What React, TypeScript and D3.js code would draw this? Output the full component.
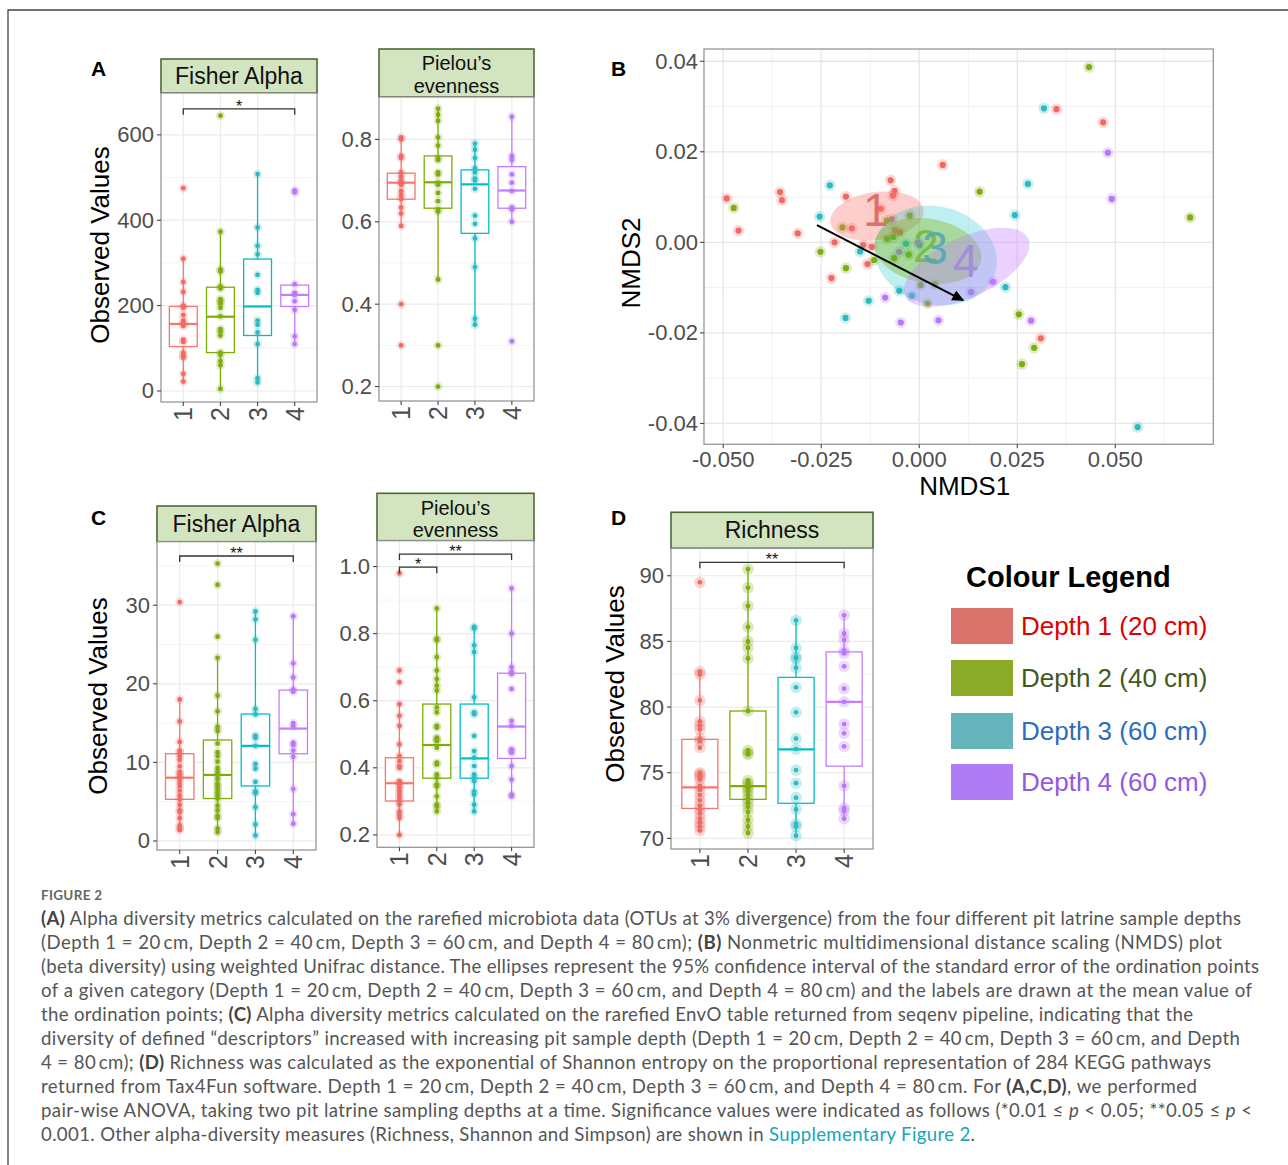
import React from "react";
import * as d3 from "d3";

// ---------- shared ----------
const cats = ["1", "2", "3", "4"];
const boxStroke = ["#F8766D", "#7CAE00", "#00BFC4", "#C77CFF"];
const dotFill = ["#EE6A63", "#80AC10", "#2DBBC2", "#B978F8"];

// ---------- Panel A: Fisher Alpha ----------
const fisherAPoints = [
  [475, 310, 255, 232, 200, 195, 178, 165, 158, 152, 120, 115, 90, 82, 78, 40, 22],
  [645, 373, 285, 280, 245, 240, 215, 210, 205, 195, 175, 145, 140, 130, 90, 85, 70, 60, 5],
  [508, 383, 340, 320, 272, 237, 230, 165, 155, 137, 110, 30, 20],
  [470, 465, 250, 230, 225, 210, 190, 128, 110],
];
// [lower whisker, q1, median, q3, upper whisker]
const fisherABoxes = [
  [20, 104, 157, 198, 309],
  [5, 90, 174, 243, 373],
  [20, 130, 198, 309, 508],
  [110, 198, 225, 248, 250],
];
const fisherATicks = [0, 200, 400, 600];
const fisherAMinor = [100, 300, 500];

// ---------- Panel A: Pielou ----------
const pielouAPoints = [
  [0.805, 0.8, 0.76, 0.755, 0.72, 0.71, 0.7, 0.695, 0.69, 0.675, 0.665, 0.655, 0.635, 0.62, 0.59, 0.4, 0.3],
  [0.875, 0.86, 0.845, 0.805, 0.785, 0.755, 0.75, 0.72, 0.715, 0.695, 0.69, 0.67, 0.65, 0.63, 0.625, 0.46, 0.3, 0.2],
  [0.79, 0.775, 0.755, 0.73, 0.72, 0.705, 0.7, 0.68, 0.615, 0.595, 0.56, 0.49, 0.365, 0.35],
  [0.855, 0.76, 0.75, 0.715, 0.695, 0.675, 0.635, 0.63, 0.6, 0.31],
];
const pielouABoxes = [
  [0.59, 0.655, 0.695, 0.718, 0.805],
  [0.46, 0.633, 0.696, 0.76, 0.875],
  [0.35, 0.572, 0.691, 0.726, 0.79],
  [0.6, 0.633, 0.676, 0.734, 0.855],
];
const pielouATicks = [0.2, 0.4, 0.6, 0.8];
const pielouAMinor = [0.3, 0.5, 0.7];

// ---------- Panel C: Fisher Alpha ----------
const fisherCPoints = [
  [30.4, 18, 15.2, 12.6, 11.5, 11.2, 10.8, 10.3, 9.5, 8.8, 8.6, 8.2, 8.0, 7.5, 7.0, 6.4, 5.8, 5.3, 4.6, 3.9, 3.7, 2.9, 2.0, 1.6, 1.4],
  [35.3, 32.6, 26.0, 23.3, 18.5, 16.5, 14.5, 14.0, 12.4, 11.3, 10.8, 10.1, 9.3, 8.8, 8.4, 7.9, 7.3, 7.0, 6.6, 6.2, 5.8, 5.4, 4.5, 3.9, 3.2, 2.9, 1.6, 1.1],
  [29.2, 28.2, 25.6, 16.8, 16.1, 13.4, 13.1, 12.1, 9.8, 9.2, 7.5, 6.3, 6.1, 4.3, 2.1, 0.7],
  [28.6, 22.6, 20.8, 19.3, 19.0, 15.0, 14.6, 12.5, 12.2, 11.5, 10.7, 6.6, 3.4, 2.2],
];
const fisherCBoxes = [
  [1.4, 5.3, 8.05, 11.1, 18],
  [1.1, 5.4, 8.4, 12.85, 23.3],
  [0.7, 7.0, 12.1, 16.15, 29.2],
  [2.2, 11.1, 14.3, 19.2, 28.6],
];
const fisherCTicks = [0, 10, 20, 30];
const fisherCMinor = [5, 15, 25, 35];

// ---------- Panel C: Pielou ----------
const pielouCPoints = [
  [0.98, 0.69, 0.655, 0.59, 0.555, 0.525, 0.47, 0.435, 0.42, 0.405, 0.4, 0.36, 0.355, 0.35, 0.34, 0.33, 0.32, 0.31, 0.3, 0.29, 0.27, 0.26, 0.25, 0.2],
  [0.875, 0.785, 0.78, 0.73, 0.69, 0.665, 0.645, 0.63, 0.58, 0.565, 0.525, 0.52, 0.49, 0.485, 0.48, 0.46, 0.415, 0.41, 0.38, 0.37, 0.35, 0.345, 0.315, 0.29, 0.285, 0.27],
  [0.82, 0.815, 0.765, 0.745, 0.61, 0.565, 0.56, 0.495, 0.45, 0.43, 0.405, 0.38, 0.37, 0.36, 0.33, 0.32, 0.29, 0.27],
  [0.935, 0.8, 0.7, 0.685, 0.68, 0.635, 0.54, 0.525, 0.455, 0.45, 0.445, 0.405, 0.365, 0.32, 0.315],
];
const pielouCBoxes = [
  [0.2, 0.301, 0.354, 0.43, 0.59],
  [0.27, 0.369, 0.468, 0.59, 0.875],
  [0.27, 0.369, 0.428, 0.59, 0.82],
  [0.315, 0.428, 0.523, 0.682, 0.935],
];
const pielouCTicks = [0.2, 0.4, 0.6, 0.8, 1.0];
const pielouCMinor = [0.3, 0.5, 0.7, 0.9];

// ---------- Panel D: Richness ----------
const richPoints = [
  [89.5, 82.7, 82.5, 80.5, 78.9, 78.6, 78.3, 77.6, 77.4, 76.9, 75.0, 74.9, 74.7, 74.5, 74.0, 73.7, 73.3, 72.9, 72.5, 72.2, 71.9, 71.5, 71.2, 70.9, 70.6],
  [90.5, 89.1, 87.7, 86.1, 85.0, 84.5, 83.7, 79.7, 76.7, 76.5, 76.4, 74.4, 74.2, 74.0, 73.8, 73.6, 73.3, 73.0, 72.7, 72.4, 72.0, 71.4, 70.9, 70.4],
  [86.6, 84.5, 83.8, 83.7, 83.0, 81.5, 79.6, 77.6, 76.8, 75.2, 74.2, 73.1, 72.2, 71.1, 70.9, 70.2],
  [87.0, 85.6, 85.1, 84.3, 84.1, 83.1, 81.4, 80.4, 78.7, 78.0, 77.0, 74.0, 72.3, 72.1, 71.5],
];
const richBoxes = [
  [70.6, 72.28, 73.88, 77.54, 82.7],
  [70.4, 72.97, 73.98, 79.7, 90.5],
  [70.1, 72.67, 76.78, 82.26, 86.6],
  [71.5, 75.5, 80.4, 84.2, 87.0],
];
const richTicks = [70, 75, 80, 85, 90];
const richMinor = [72.5, 77.5, 82.5, 87.5];

// ---------- Panel B: NMDS ----------
const nmdsDepth1 = [
  [-0.0491, 0.0097], [-0.0461, 0.0026], [-0.0355, 0.0111], [-0.035, 0.0093], [-0.031, 0.002],
  [-0.0187, 0.0101], [-0.0073, 0.0137], [-0.0063, 0.0114], [-0.0067, 0.0103], [-0.0098, 0.0074],
  [-0.0172, 0.0031], [-0.0216, 0.0], [-0.0143, -0.0006], [-0.0121, -0.001], [-0.0132, -0.0048],
  [-0.0224, -0.0079], [-0.007, 0.0051], [-0.0062, 0.0027], [-0.0049, 0.0022], [0.035, 0.0294],
  [0.0469, 0.0265], [0.006, 0.0171], [0.031, -0.0212],
];
const nmdsDepth2 = [
  [-0.0473, 0.0076], [-0.0196, 0.0033], [-0.0252, -0.0021], [-0.0187, -0.0057], [-0.0024, 0.0059],
  [-0.0083, 0.0048], [-0.0082, 0.0008], [-0.0066, 0.0012], [-0.0064, -0.0035], [-0.0027, -0.0027],
  [-0.0115, -0.0039], [0.0433, 0.0387], [0.0154, 0.0112], [0.0691, 0.0055], [0.0254, -0.0159],
  [0.0293, -0.0233], [0.0262, -0.0269], [0.0021, -0.0135], [0.0004, -0.0094], [0.004, -0.0093],
];
const nmdsDepth3 = [
  [-0.0228, 0.0126], [-0.0254, 0.0057], [-0.0151, -0.002], [-0.0051, -0.0107], [-0.0129, -0.0129],
  [-0.0188, -0.0167], [-0.0019, -0.0118], [-0.0034, -0.0003], [0.0001, -0.0006], [0.0318, 0.0296],
  [0.0277, 0.0129], [0.0244, 0.006], [0.022, -0.0099], [0.0557, -0.0408],
];
const nmdsDepth4 = [
  [-0.0087, -0.0122], [-0.0047, -0.0177], [-0.0051, -0.0021], [-0.0003, 0.0], [0.0481, 0.0198],
  [0.0491, 0.0096], [0.0188, -0.0087], [0.0132, -0.011], [0.0285, -0.0173], [0.0049, -0.0172],
];
const nmdsGroups = [nmdsDepth1, nmdsDepth2, nmdsDepth3, nmdsDepth4];
// ellipses: centre x, centre y, semi-axis x (data), semi-axis y (data), tilt (deg)
const ellipseCx = [-0.0108, 0.0022, 0.0042, 0.0121];
const ellipseCy = [0.0058, -0.0019, -0.0029, -0.0055];
const ellipseRx = [0.012, 0.0138, 0.0158, 0.0173];
const ellipseRy = [0.0053, 0.0071, 0.0108, 0.0066];
const ellipseAngle = [-8, 10, 15, -25];
const ellipseOrder = [0, 2, 1, 3];
const groupLabelX = [-0.0111, 0.0017, 0.004, 0.0119];
const groupLabelY = [0.0071, -0.0008, -0.0013, -0.0041];
const labelColors = ["#D9625B", "#74B53F", "#4FA6B6", "#A184E6"];
const arrowFrom = [-0.0261, 0.0038];
const arrowTo = [0.0112, -0.0128];
const nmdsXTicks = [-0.05, -0.025, 0, 0.025, 0.05];
const nmdsXMinor = [-0.0375, -0.0125, 0.0125, 0.0375, 0.0625];
const nmdsYTicks = [-0.04, -0.02, 0, 0.02, 0.04];
const nmdsYMinor = [-0.03, -0.01, 0.01, 0.03];

// ---------- Legend ----------
const legendTitle = "Colour Legend";
const legendLabels = ["Depth 1 (20 cm)", "Depth 2 (40 cm)", "Depth 3 (60 cm)", "Depth 4 (60 cm)"];
const legendSwatch = ["#D9736C", "#8BAA28", "#66B5BD", "#B07CF5"];
const legendTextColor = ["#E00000", "#3F5A1F", "#2D6CC0", "#9358E2"];

// ---------- Caption ----------
type Seg = { t: string; s?: "b" | "i" | "link" };
const captionHead = "FIGURE 2";
const captionLines: Seg[][] = [
  [{ t: "(A)", s: "b" }, { t: " Alpha diversity metrics calculated on the rarefied microbiota data (OTUs at 3% divergence) from the four different pit latrine sample depths" }],
  [{ t: "(Depth 1 = 20\u2009cm, Depth 2 = 40\u2009cm, Depth 3 = 60\u2009cm, and Depth 4 = 80\u2009cm); " }, { t: "(B)", s: "b" }, { t: " Nonmetric multidimensional distance scaling (NMDS) plot" }],
  [{ t: "(beta diversity) using weighted Unifrac distance. The ellipses represent the 95% confidence interval of the standard error of the ordination points" }],
  [{ t: "of a given category (Depth 1 = 20\u2009cm, Depth 2 = 40\u2009cm, Depth 3 = 60\u2009cm, and Depth 4 = 80\u2009cm) and the labels are drawn at the mean value of" }],
  [{ t: "the ordination points; " }, { t: "(C)", s: "b" }, { t: " Alpha diversity metrics calculated on the rarefied EnvO table returned from seqenv pipeline, indicating that the" }],
  [{ t: "diversity of defined \u201Cdescriptors\u201D increased with increasing pit sample depth (Depth 1 = 20\u2009cm, Depth 2 = 40\u2009cm, Depth 3 = 60\u2009cm, and Depth" }],
  [{ t: "4 = 80\u2009cm); " }, { t: "(D)", s: "b" }, { t: " Richness was calculated as the exponential of Shannon entropy on the proportional representation of 284 KEGG pathways" }],
  [{ t: "returned from Tax4Fun software. Depth 1 = 20\u2009cm, Depth 2 = 40\u2009cm, Depth 3 = 60\u2009cm, and Depth 4 = 80\u2009cm. For " }, { t: "(A,C,D)", s: "b" }, { t: ", we performed" }],
  [{ t: "pair-wise ANOVA, taking two pit latrine sampling depths at a time. Significance values were indicated as follows (*0.01 \u2264 " }, { t: "p", s: "i" }, { t: " < 0.05; **0.05 \u2264 " }, { t: "p", s: "i" }, { t: " <" }],
  [{ t: "0.001. Other alpha-diversity measures (Richness, Shannon and Simpson) are shown in " }, { t: "Supplementary Figure 2", s: "link" }, { t: "." }],
];
const captionLineEnds = [1241, 1222, 1259, 1252, 1193, 1240, 1211, 1197, 1252, 975];

const FONT = "'Liberation Sans', Arial, Helvetica, sans-serif";

type Bracket = { a: string; b: string; y: number; label: string };

type BoxPanelProps = {
  x0: number; y0: number; w: number; h: number;
  stripTop: number; stripLines: string[]; stripFont: number;
  domain: [number, number]; ticks: number[]; minor: number[]; fmt: (v: number) => string;
  points: number[][]; boxes: number[][]; brackets: Bracket[];
  halo: number; haloOpacity: number;
};

function BoxPanel(p: BoxPanelProps) {
  const x = d3.scalePoint<string>().domain(cats).range([p.x0, p.x0 + p.w]).padding(0.6);
  const y = d3.scaleLinear().domain(p.domain).range([p.y0 + p.h, p.y0]);
  const step = x.step();
  const bw = step * 0.75;
  const sh = p.y0 - p.stripTop;
  const bottom = p.y0 + p.h;
  return (
    <g fontFamily={FONT}>
      {/* strip */}
      <rect x={p.x0} y={p.stripTop} width={p.w} height={sh} fill="#D3E4C0" stroke="#4B6A33" strokeWidth={1.6} />
      {p.stripLines.map((s, i) => (
        <text key={i} x={p.x0 + p.w / 2}
          y={p.stripLines.length === 1 ? p.stripTop + sh / 2 : p.stripTop + sh * (i === 0 ? 0.3 : 0.77)}
          textAnchor="middle" dominantBaseline="central" fontSize={p.stripFont} fill="#111">{s}</text>
      ))}
      {/* panel */}
      <rect x={p.x0} y={p.y0} width={p.w} height={p.h} fill="#fff" />
      {p.minor.map((v) => (
        <line key={"mi" + v} x1={p.x0} x2={p.x0 + p.w} y1={y(v)} y2={y(v)} stroke="#F3F3F3" strokeWidth={0.8} />
      ))}
      {p.ticks.map((v) => (
        <line key={"ma" + v} x1={p.x0} x2={p.x0 + p.w} y1={y(v)} y2={y(v)} stroke="#EBEBEB" strokeWidth={1.2} />
      ))}
      {cats.map((c) => (
        <line key={"vx" + c} x1={x(c)} x2={x(c)} y1={p.y0} y2={bottom} stroke="#EBEBEB" strokeWidth={1.2} />
      ))}
      {/* boxes */}
      {p.boxes.map((b, i) => {
        const cx = x(cats[i]) as number;
        const col = boxStroke[i];
        return (
          <g key={"b" + i}>
            <line x1={cx} x2={cx} y1={y(b[4])} y2={y(b[3])} stroke={col} strokeWidth={1.3} />
            <line x1={cx} x2={cx} y1={y(b[1])} y2={y(b[0])} stroke={col} strokeWidth={1.3} />
            <rect x={cx - bw / 2} y={y(b[3])} width={bw} height={y(b[1]) - y(b[3])} fill="#fff" stroke={col} strokeWidth={1.3} />
            <line x1={cx - bw / 2} x2={cx + bw / 2} y1={y(b[2])} y2={y(b[2])} stroke={col} strokeWidth={2.2} />
          </g>
        );
      })}
      {/* points */}
      {p.points.map((arr, i) => (
        <g key={"p" + i}>
          {arr.map((v, j) => (
            <circle key={"h" + j} cx={x(cats[i])} cy={y(v)} r={p.halo} fill={dotFill[i]} opacity={p.haloOpacity} />
          ))}
          {arr.map((v, j) => (
            <circle key={"c" + j} cx={x(cats[i])} cy={y(v)} r={2.4} fill={dotFill[i]} />
          ))}
        </g>
      ))}
      {/* brackets */}
      {p.brackets.map((br, i) => {
        const xa = x(br.a) as number;
        const xb = x(br.b) as number;
        const yy = y(br.y);
        return (
          <g key={"br" + i}>
            <path d={`M${xa},${yy + 6}V${yy}H${xb}V${yy + 6}`} fill="none" stroke="#333" strokeWidth={1.3} />
            <text x={(xa + xb) / 2} y={yy + 3} textAnchor="middle" fontSize={16} fill="#111">{br.label}</text>
          </g>
        );
      })}
      <rect x={p.x0} y={p.y0} width={p.w} height={p.h} fill="none" stroke="#8E8E8E" strokeWidth={1.2} />
      {/* y axis */}
      {p.ticks.map((v) => (
        <g key={"yt" + v}>
          <line x1={p.x0 - 4} x2={p.x0} y1={y(v)} y2={y(v)} stroke="#444" strokeWidth={1.1} />
          <text x={p.x0 - 7} y={y(v)} textAnchor="end" dominantBaseline="central" fontSize={22} fill="#4D4D4D">{p.fmt(v)}</text>
        </g>
      ))}
      {/* x axis */}
      {cats.map((c) => (
        <g key={"xt" + c}>
          <line x1={x(c)} x2={x(c)} y1={bottom} y2={bottom + 4} stroke="#444" strokeWidth={1.1} />
          <text transform={`translate(${x(c)},${bottom + 5}) rotate(-90)`} textAnchor="end" dominantBaseline="central"
            fontSize={25} fill="#4D4D4D">{c}</text>
        </g>
      ))}
    </g>
  );
}

function NmdsPanel() {
  const x0 = 704, x1 = 1213.3, y0 = 49, y1 = 444.3;
  const x = d3.scaleLinear().domain([-0.0549, 0.075]).range([x0, x1]);
  const y = d3.scaleLinear().domain([-0.0446, 0.0427]).range([y1, y0]);
  const ellipsePath = (i: number) => {
    const cx = x(ellipseCx[i]);
    const cy = y(ellipseCy[i]);
    const a = (ellipseAngle[i] * Math.PI) / 180;
    const pts: [number, number][] = d3.range(0, 73).map((k) => {
      const t = (k / 72) * 2 * Math.PI;
      const u = x(ellipseCx[i] + ellipseRx[i] * Math.cos(t)) - cx;
      const v = y(ellipseCy[i] + ellipseRy[i] * Math.sin(t)) - cy;
      return [cx + u * Math.cos(a) - v * Math.sin(a), cy + u * Math.sin(a) + v * Math.cos(a)];
    });
    return d3.line()(pts) + "Z";
  };
  const ax1 = x(arrowFrom[0]), ay1 = y(arrowFrom[1]);
  const ax2 = x(arrowTo[0]), ay2 = y(arrowTo[1]);
  return (
    <g fontFamily={FONT}>
      <defs>
        <marker id="ah" viewBox="0 0 10 10" refX="9" refY="5" markerWidth="6" markerHeight="6" orient="auto" markerUnits="strokeWidth">
          <path d="M0,0.5L10,5L0,9.5Z" fill="#000" />
        </marker>
      </defs>
      <rect x={x0} y={y0} width={x1 - x0} height={y1 - y0} fill="#fff" />
      {nmdsXMinor.map((v) => <line key={"xm" + v} x1={x(v)} x2={x(v)} y1={y0} y2={y1} stroke="#F1F1F1" strokeWidth={1} />)}
      {nmdsYMinor.map((v) => <line key={"ym" + v} x1={x0} x2={x1} y1={y(v)} y2={y(v)} stroke="#F1F1F1" strokeWidth={1} />)}
      {nmdsXTicks.map((v) => <line key={"xM" + v} x1={x(v)} x2={x(v)} y1={y0} y2={y1} stroke="#E6E6E6" strokeWidth={1.3} />)}
      {nmdsYTicks.map((v) => <line key={"yM" + v} x1={x0} x2={x1} y1={y(v)} y2={y(v)} stroke="#E6E6E6" strokeWidth={1.3} />)}
      {nmdsGroups.map((g, i) => (
        <g key={"g" + i}>
          {g.map((d, j) => (
            <g key={j}>
              <circle cx={x(d[0])} cy={y(d[1])} r={5.8} fill={dotFill[i]} opacity={0.24} />
              <circle cx={x(d[0])} cy={y(d[1])} r={3.1} fill={dotFill[i]} />
            </g>
          ))}
        </g>
      ))}
      {ellipseOrder.map((i) => (
        <path key={"e" + i} d={ellipsePath(i)} fill={boxStroke[i]} fillOpacity={i === 2 ? 0.25 : 0.35} stroke="none" />
      ))}
      {cats.map((c, i) => (
        <text key={"l" + c} x={x(groupLabelX[i])} y={y(groupLabelY[i])} textAnchor="middle" dominantBaseline="central"
          fontSize={46} fill={labelColors[i]} opacity={0.85}>{c}</text>
      ))}
      <line x1={ax1} y1={ay1} x2={ax2} y2={ay2} stroke="#000" strokeWidth={2} markerEnd="url(#ah)" />
      <rect x={x0} y={y0} width={x1 - x0} height={y1 - y0} fill="none" stroke="#8E8E8E" strokeWidth={1.2} />
      {nmdsYTicks.map((v) => (
        <g key={"yt" + v}>
          <line x1={x0 - 4} x2={x0} y1={y(v)} y2={y(v)} stroke="#444" strokeWidth={1.1} />
          <text x={x0 - 6} y={y(v)} textAnchor="end" dominantBaseline="central" fontSize={22} fill="#4D4D4D">{v.toFixed(2)}</text>
        </g>
      ))}
      {nmdsXTicks.map((v) => (
        <g key={"xt" + v}>
          <line x1={x(v)} x2={x(v)} y1={y1} y2={y1 + 4} stroke="#444" strokeWidth={1.1} />
          <text x={x(v)} y={y1 + 15} textAnchor="middle" dominantBaseline="central" fontSize={22} fill="#4D4D4D">{v.toFixed(3)}</text>
        </g>
      ))}
      <text x={(x0 + x1) / 2 + 6} y={486} textAnchor="middle" dominantBaseline="central" fontSize={26} fill="#000">NMDS1</text>
      <text transform={`translate(631,263) rotate(-90)`} textAnchor="middle" dominantBaseline="central" fontSize={26} fill="#000">NMDS2</text>
    </g>
  );
}

function Legend() {
  const tops = [608, 660, 713, 764];
  return (
    <g fontFamily={FONT}>
      <text x={966} y={587} fontSize={29} fontWeight="bold" fill="#000">{legendTitle}</text>
      {legendLabels.map((l, i) => (
        <g key={l}>
          <rect x={951} y={tops[i]} width={62} height={36} fill={legendSwatch[i]} />
          <text x={1021} y={tops[i] + 18} dominantBaseline="central" fontSize={26} fill={legendTextColor[i]}>{l}</text>
        </g>
      ))}
    </g>
  );
}

function Caption() {
  const x0 = 41;
  return (
    <g fontFamily="Lato, 'Open Sans', sans-serif" fill="#555">
      <text x={x0} y={900} fontSize={13.5} fontWeight="bold" fill="#666" letterSpacing={0.3}>{captionHead}</text>
      {captionLines.map((segs, i) => {
        const end = captionLineEnds[i];
        const extra = end > 0 ? { textLength: end - x0, lengthAdjust: "spacing" } : {};
        return (
          <text key={i} x={x0} y={924.5 + i * 24} fontSize={18.6} {...extra}>
            {segs.map((s, j) => (
              <tspan key={j}
                fontWeight={s.s === "b" ? "bold" : undefined}
                fontStyle={s.s === "i" ? "italic" : undefined}
                fill={s.s === "link" ? "#17A5B8" : s.s === "b" ? "#444" : undefined}>{s.t}</tspan>
            ))}
          </text>
        );
      })}
    </g>
  );
}

export default function App() {
  return (
    <svg width={1288} height={1165} style={{ position: "absolute", left: 0, top: 0, background: "#fff" }}>
      <rect x={0} y={0} width={1288} height={1165} fill="#fff" />
      <path d="M8,1165V10H1288" fill="none" stroke="#444" strokeWidth={1.3} />
      <g fontFamily={FONT} fontWeight="bold" fontSize={21} fill="#000">
        <text x={91} y={76}>A</text>
        <text x={611} y={76}>B</text>
        <text x={91} y={525}>C</text>
        <text x={611} y={525}>D</text>
      </g>
      <g fontFamily={FONT} fontSize={26} fill="#000">
        <text transform="translate(100,245) rotate(-90)" textAnchor="middle" dominantBaseline="central">Observed Values</text>
        <text transform="translate(98,696) rotate(-90)" textAnchor="middle" dominantBaseline="central">Observed Values</text>
        <text transform="translate(615,684) rotate(-90)" textAnchor="middle" dominantBaseline="central">Observed Values</text>
      </g>
      <BoxPanel x0={161} y0={93} w={156} h={309} stripTop={59} stripLines={["Fisher Alpha"]} stripFont={23}
        domain={[-25.8, 698]} ticks={fisherATicks} minor={fisherAMinor} fmt={(v) => String(v)}
        points={fisherAPoints} boxes={fisherABoxes} brackets={[{ a: "1", b: "4", y: 661, label: "*" }]}
        halo={4.5} haloOpacity={0.22} />
      <BoxPanel x0={379} y0={97} w={155} h={304} stripTop={49} stripLines={["Pielou\u2019s", "evenness"]} stripFont={20}
        domain={[0.165, 0.903]} ticks={pielouATicks} minor={pielouAMinor} fmt={(v) => v.toFixed(1)}
        points={pielouAPoints} boxes={pielouABoxes} brackets={[]}
        halo={4.5} haloOpacity={0.22} />
      <BoxPanel x0={157} y0={541.7} w={159} h={308.3} stripTop={506} stripLines={["Fisher Alpha"]} stripFont={23}
        domain={[-1.15, 38.08]} ticks={fisherCTicks} minor={fisherCMinor} fmt={(v) => String(v)}
        points={fisherCPoints} boxes={fisherCBoxes} brackets={[{ a: "1", b: "4", y: 36.26, label: "**" }]}
        halo={4.5} haloOpacity={0.22} />
      <BoxPanel x0={377} y0={540.7} w={157} h={306.6} stripTop={493.3} stripLines={["Pielou\u2019s", "evenness"]} stripFont={20}
        domain={[0.163, 1.077]} ticks={pielouCTicks} minor={pielouCMinor} fmt={(v) => v.toFixed(1)}
        points={pielouCPoints} boxes={pielouCBoxes}
        brackets={[{ a: "1", b: "4", y: 1.037, label: "**" }, { a: "1", b: "2", y: 0.998, label: "*" }]}
        halo={4.5} haloOpacity={0.22} />
      <BoxPanel x0={671} y0={548.3} w={202} h={300.7} stripTop={512.3} stripLines={["Richness"]} stripFont={23}
        domain={[69.19, 92.09]} ticks={richTicks} minor={richMinor} fmt={(v) => String(v)}
        points={richPoints} boxes={richBoxes} brackets={[{ a: "1", b: "4", y: 91.02, label: "**" }]}
        halo={5.8} haloOpacity={0.28} />
      <NmdsPanel />
      <Legend />
      <Caption />
    </svg>
  );
}
